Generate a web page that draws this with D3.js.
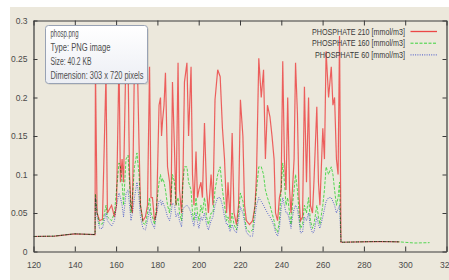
<!DOCTYPE html>
<html>
<head>
<meta charset="utf-8">
<script src="https://cdnjs.cloudflare.com/ajax/libs/d3/7.8.5/d3.min.js"></script>
<style>
  body { margin: 0; background: #fff; }
  .axis text { font-family: "Liberation Sans Narrow", "Liberation Sans", Arial, sans-serif; font-size: 8.5px; fill: #4a4a4a; }
  .axis path, .axis line { stroke: #3a3a3a; }
  .series { mix-blend-mode: multiply; }
</style>
</head>
<body>
<div class="chart"></div>
<script>
// x positions (model units) shared by all three series
var xValues = [
  120.0,130.2,139.9,149.8,150.0,150.8,152.0,153.4,155.1,155.8,
  157.8,159.2,160.2,161.4,162.1,162.9,163.6,164.8,165.8,166.5,
  167.2,167.9,168.9,170.1,171.1,171.8,173.0,174.2,175.2,176.2,
  176.9,177.6,178.6,179.6,180.8,181.5,182.0,182.5,183.2,183.9,
  184.9,185.9,186.6,187.3,188.3,189.0,190.0,190.7,191.7,192.4,
  193.1,194.3,195.1,196.3,197.0,197.7,198.7,199.4,200.1,201.1,
  201.8,202.8,203.8,204.7,206.0,206.9,207.9,209.2,210.4,211.5,
  212.5,213.5,214.2,215.2,216.2,217.1,218.3,219.3,220.2,221.4,
  222.2,223.1,224.6,226.1,227.3,228.0,229.1,230.3,231.4,232.3,
  233.3,234.5,235.5,236.5,237.2,238.2,239.1,239.9,240.7,241.5,
  242.3,243.1,244.0,244.7,245.4,246.2,246.9,247.8,248.6,249.3,
  250.3,251.2,252.2,253.2,254.1,255.1,255.8,257.2,258.0,258.7,
  260.1,260.9,261.7,262.9,264.2,265.0,265.8,266.7,267.5,268.2,
  268.9,277.9,287.6,297.2,304.5,311.8
];

var phosphate210 = [
  .0195,.020,.023,.022,.24,.05,.04,.042,.23,.05,
  .06,.045,.06,.25,.09,.12,.09,.26,.24,.10,
  .06,.05,.25,.27,.14,.06,.04,.045,.06,.24,
  .07,.07,.04,.05,.19,.20,.15,.17,.19,.232,
  .11,.09,.06,.22,.13,.06,.245,.08,.05,.10,
  .22,.245,.15,.24,.10,.06,.13,.07,.08,.09,
  .07,.167,.08,.05,.10,.06,.197,.236,.227,.16,
  .12,.05,.09,.04,.154,.05,.035,.06,.197,.15,
  .06,.04,.035,.04,.06,.10,.251,.20,.236,.12,
  .19,.175,.15,.12,.05,.04,.07,.08,.247,.12,
  .08,.20,.08,.05,.08,.12,.245,.18,.07,.04,
  .045,.214,.09,.20,.06,.05,.09,.188,.09,.06,
  .16,.12,.26,.20,.24,.19,.20,.12,.10,.28,
  .012,.0125,.013,.0125,null,null
];

var phosphate160 = [
  .0195,.020,.023,.022,.075,.05,.035,.036,.06,.045,
  .04,.05,.08,.115,.11,.09,.06,.12,.125,.09,
  .05,.07,.11,.128,.10,.06,.037,.035,.05,.07,
  .05,.045,.035,.06,.09,.10,.09,.095,.09,.08,
  .06,.05,.07,.10,.09,.06,.07,.05,.04,.09,
  .11,.11,.09,.08,.05,.04,.07,.05,.04,.06,
  .05,.07,.045,.035,.05,.05,.08,.10,.11,.08,
  .06,.04,.045,.03,.05,.035,.028,.05,.076,.065,
  .045,.03,.025,.028,.06,.08,.11,.11,.10,.08,
  .07,.06,.05,.04,.03,.025,.04,.08,.115,.09,
  .06,.07,.05,.035,.06,.08,.10,.08,.05,.03,
  .035,.06,.05,.07,.04,.03,.035,.06,.045,.035,
  .06,.08,.11,.10,.11,.10,.08,.06,.07,.09,
  .012,.0125,.013,.0125,.011,.0115
];

var phosphate60 = [
  .0195,.020,.023,.022,.07,.045,.03,.03,.05,.04,
  .033,.04,.06,.076,.07,.06,.045,.075,.08,.06,
  .04,.05,.07,.09,.07,.045,.03,.028,.04,.055,
  .04,.035,.03,.05,.065,.067,.06,.065,.06,.055,
  .045,.04,.05,.063,.06,.045,.05,.04,.032,.055,
  .058,.06,.058,.05,.04,.033,.05,.038,.03,.045,
  .04,.05,.035,.028,.04,.045,.06,.07,.07,.06,
  .045,.035,.035,.026,.035,.028,.024,.04,.058,.05,
  .038,.025,.02,.02,.045,.06,.07,.065,.06,.055,
  .05,.045,.04,.033,.025,.02,.03,.055,.07,.06,
  .05,.05,.04,.03,.045,.055,.06,.055,.04,.024,
  .025,.045,.04,.05,.032,.024,.025,.045,.035,.03,
  .045,.055,.065,.07,.07,.065,.06,.05,.055,.06,
  .012,.0125,.013,.0125,null,null
];

var seriesNames = ["PHOSPHATE 210 [mmol/m3]", "PHOSPHATE 160 [mmol/m3]", "PHOSPHATE 60 [mmol/m3]"];
var xTicks = [120, 140, 160, 180, 200, 220, 240, 260, 280, 300, 320];
var yTicks = [0, 0.05, 0.1, 0.15, 0.2, 0.25, 0.3];
var tipLines = ["phosp.png", "Type: PNG image", "Size: 40.2 KB", "Dimension: 303 x 720 pixels"];

var margin = {top: 20.5, right: 2.5, bottom: 28.5, left: 33.5},
    width = 449 - margin.left - margin.right,
    height = 280 - margin.top - margin.bottom;

var styles = [
  {color: "#ec4646", dash: null, width: 1.2},
  {color: "#3ad23a", dash: "3,1.5", width: 1},
  {color: "#4252c8", dash: "1,1.3", width: 1}
];

var root = d3.select(".chart").append("svg")
    .attr("width", 449)
    .attr("height", 280);

var defs = root.append("defs");
// the reference is a slightly soft screenshot
defs.append("filter").attr("id", "soft")
  .append("feGaussianBlur").attr("stdDeviation", 0.35);

// beige canvas, white strip on the top and left edges
root.append("rect")
    .attr("x", 10).attr("y", 7)
    .attr("width", 439).attr("height", 273)
    .attr("fill", "#ece8dc");

var svg = root.append("g")
    .attr("transform", `translate(${margin.left}, ${margin.top})`);

var x = d3.scaleLinear().domain([120, 320]).range([0, width]);
var y = d3.scaleLinear().domain([0, 0.3]).range([height, 0]);

svg.append("clipPath").attr("id", "plot")
  .append("rect").attr("width", width).attr("height", height);

var data = xValues.map((_x, i) => ({x: _x, v: [phosphate210[i], phosphate160[i], phosphate60[i]]}));

var plot = svg.append("g")
    .attr("clip-path", "url(#plot)")
  .append("g")
    .attr("filter", "url(#soft)");

styles.forEach((s, k) => {
  var line = d3.line()
    .defined(_d => _d.v[k] != null)
    .x(_d => x(_d.x))
    .y(_d => y(_d.v[k]));
  plot.append("path")
    .datum(data)
    .attr("class", "series")
    .attr("fill", "none")
    .attr("stroke-width", s.width)
    .attr("stroke-dasharray", s.dash)
    .attr("stroke-opacity", 0.85)
    .style("stroke", s.color)
    .attr("d", line);
});

// axes: ticks pointing inwards on all four sides
svg.append("g")
    .attr("class", "axis")
    .attr("transform", `translate(0, ${height})`)
    .call(d3.axisBottom(x).tickValues(xTicks).tickSizeInner(-5).tickSizeOuter(0).tickPadding(10));

svg.append("g")
    .attr("class", "axis")
    .call(d3.axisTop(x).tickValues(xTicks).tickSizeInner(-5).tickSizeOuter(0).tickFormat(""));

svg.append("g")
    .attr("class", "axis")
    .call(d3.axisLeft(y).tickValues(yTicks).tickSizeInner(-4).tickSizeOuter(0).tickPadding(6)
      .tickFormat(d3.format("~g")));

svg.append("g")
    .attr("class", "axis")
    .attr("transform", `translate(${width}, 0)`)
    .call(d3.axisRight(y).tickValues(yTicks).tickSizeInner(-4).tickSizeOuter(0).tickFormat(""));

svg.selectAll(".axis .domain").attr("stroke-width", 1.2);

// legend: sample strokes as small paths so the red one keeps its colour
var legend = root.append("g").attr("class", "legend");
seriesNames.forEach((name, k) => {
  var ly = 31.5 + k * 11.7;
  legend.append("text")
    .attr("x", 405)
    .attr("y", ly + 3)
    .attr("text-anchor", "end")
    .attr("font-family", "Liberation Sans Narrow, Liberation Sans, Arial, sans-serif")
    .attr("font-size", "9px")
    .attr("fill", "#3a3a3a")
    .attr("textLength", k == 2 ? 90 : 93)
    .attr("lengthAdjust", "spacingAndGlyphs")
    .text(name);
  legend.append("path")
    .attr("d", `M410.5,${ly}H437`)
    .attr("fill", "none")
    .attr("stroke", styles[k].color)
    .attr("stroke-width", k == 0 ? 1.3 : 1)
    .attr("stroke-dasharray", styles[k].dash);
});

// file tooltip drawn over the plot
var grad = defs.append("linearGradient").attr("id", "tipfill")
    .attr("x1", 0).attr("x2", 0).attr("y1", 0).attr("y2", 1);
grad.append("stop").attr("offset", "0%").attr("stop-color", "#ffffff");
grad.append("stop").attr("offset", "100%").attr("stop-color", "#eceef4");

var tip = root.append("g");
tip.append("rect")
    .attr("x", 47).attr("y", 27)
    .attr("width", 102).attr("height", 58)
    .attr("rx", 3)
    .attr("fill", "#000").attr("opacity", 0.08);
tip.append("rect")
    .attr("x", 45.5).attr("y", 25.5)
    .attr("width", 102).attr("height", 58)
    .attr("rx", 3)
    .attr("fill", "url(#tipfill)")
    .attr("stroke", "#98a2b4");

var tipWidths = [28, 60, 41, 93];
tip.selectAll("text")
    .data(tipLines)
    .enter()
    .append("text")
    .attr("x", 50.5)
    .attr("y", (_d, i) => 36.5 + i * 14)
    .attr("font-family", "Liberation Sans Narrow, Liberation Sans, Arial, sans-serif")
    .attr("font-size", "10px")
    .attr("fill", "#4e4e4e")
    .attr("textLength", (_d, i) => tipWidths[i])
    .attr("lengthAdjust", "spacingAndGlyphs")
    .text(_d => _d);
</script>
</body>
</html>
